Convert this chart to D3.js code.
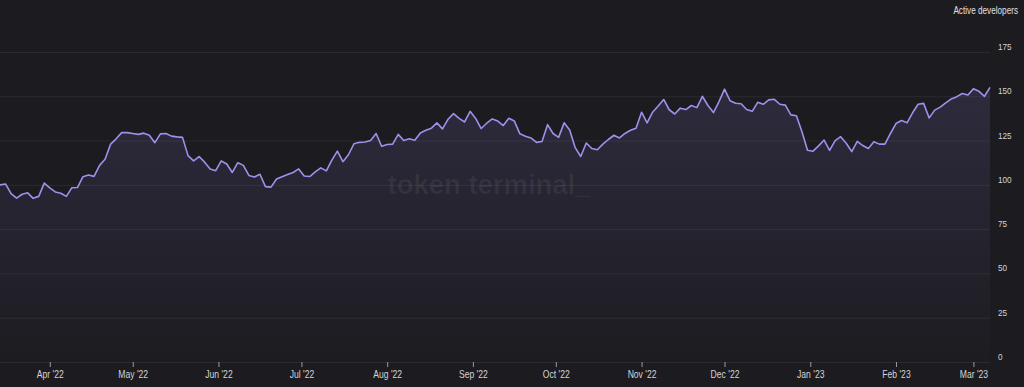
<!DOCTYPE html>
<html>
<head>
<meta charset="utf-8">
<script src="https://cdn.jsdelivr.net/npm/d3@7/dist/d3.min.js"></script>
<style>
  html, body { margin: 0; padding: 0; background: #1c1b1f; }
  svg { display: block; font-family: "Liberation Sans", Arial, sans-serif; }
</style>
</head>
<body>
<svg id="chart" width="1024" height="387"></svg>
<script>
// data: one reading every 2 days, starting 14 Mar 2022
const startDate = new Date(2022, 2, 14);
const stepDays = 2;
const activeDevelopers = [
  100, 100.5, 95, 92.5, 94.7, 95.5, 92.4, 93.5, 101, 98.3,
  96, 95.3, 93.5, 98.4, 98.5, 104.6, 105.6, 104.8, 111, 114.5,
  123, 126, 129.5, 129.5, 129, 128.5, 129.2, 128, 123.8, 128.8,
  129, 127.5, 127.1, 126.8, 116.5, 113.5, 116, 112.8, 109, 108,
  113.5, 111.8, 107, 112.5, 111, 105.3, 104.4, 106, 99, 98.7,
  103.3, 104.6, 105.8, 107, 109, 105, 104.7, 107.3, 109.6, 107.9,
  114, 119, 113.1, 117, 123.2, 124, 124.2, 125, 129, 121.8,
  122.8, 123, 128.5, 125, 126, 125.2, 129.3, 130.8, 132, 135,
  131.6, 137, 140.2, 137.5, 135.5, 141.5, 137.5, 131.8, 134.8, 137.2,
  136, 133.5, 137.6, 136, 128.8, 127.5, 126.5, 124, 124.5, 134,
  129, 126.8, 135, 131, 121, 116, 123.6, 120.5, 119.8, 123,
  125.6, 128, 126.5, 129, 130.8, 132, 141, 135, 141, 144.5,
  148.2, 142.4, 140, 143.3, 142.5, 144.8, 143.6, 150, 144.8, 140.8,
  147, 154, 147.5, 146.1, 145.8, 142.5, 141.5, 146.6, 145.5, 148,
  148.3, 145.5, 145, 139.5, 139, 130, 119.5, 119, 122, 125.3,
  119.5, 125, 127.2, 123.5, 118.8, 124.5, 122.2, 120.5, 124.3, 123,
  123, 129, 134.6, 136.3, 135, 140.7, 145.5, 146, 137.8, 142.2,
  143.9, 146.3, 148.5, 149.8, 151.6, 150.7, 154.2, 152.8, 150, 155
];
const yTicks = [0, 25, 50, 75, 100, 125, 150, 175];
const seriesName = "Active developers";
const watermark = "token terminal_";

const width = 1024, height = 387;
const plot = { left: 0, right: 990, top: 52, bottom: 362 };

const data = activeDevelopers.map((v, i) => ({
  date: d3.timeDay.offset(startDate, i * stepDays),
  value: v
}));

const svg = d3.select("#chart");

svg.append("rect")
  .attr("width", width).attr("height", height)
  .attr("fill", "#1c1b1f");

const x = d3.scaleTime()
  .domain(d3.extent(data, d => d.date))
  .range([plot.left, plot.right]);

const y = d3.scaleLinear()
  .domain([0, 175])
  .range([plot.bottom, plot.top]);

// gradient under the line
const defs = svg.append("defs");
const grad = defs.append("linearGradient")
  .attr("id", "areaFill")
  .attr("gradientUnits", "userSpaceOnUse")
  .attr("x1", 0).attr("x2", 0)
  .attr("y1", y(160)).attr("y2", y(0));
grad.append("stop").attr("offset", "0%").attr("stop-color", "#8f80e0").attr("stop-opacity", 0.16);
grad.append("stop").attr("offset", "100%").attr("stop-color", "#8f80e0").attr("stop-opacity", 0.01);

// grid
svg.append("g")
  .selectAll("line")
  .data(yTicks)
  .join("line")
  .attr("x1", plot.left).attr("x2", plot.right)
  .attr("y1", d => y(d) + 0.5).attr("y2", d => y(d) + 0.5)
  .attr("stroke", "#2b2a30")
  .attr("stroke-width", 1);

// area + line
svg.append("path")
  .datum(data)
  .attr("fill", "url(#areaFill)")
  .attr("d", d3.area()
    .x(d => x(d.date))
    .y0(y(0))
    .y1(d => y(d.value)));

// watermark
svg.append("text")
  .attr("x", 489).attr("y", 194)
  .attr("text-anchor", "middle")
  .attr("font-size", 27)
  .attr("font-weight", 600)
  .attr("fill", "#ffffff")
  .attr("fill-opacity", 0.06)
  .attr("textLength", 203)
  .attr("lengthAdjust", "spacingAndGlyphs")
  .text(watermark);

svg.append("path")
  .datum(data)
  .attr("fill", "none")
  .attr("stroke", "#9e90ec")
  .attr("stroke-width", 1.6)
  .attr("stroke-linejoin", "round")
  .attr("d", d3.line()
    .x(d => x(d.date))
    .y(d => y(d.value)));

// y labels on the right
svg.append("g")
  .selectAll("g")
  .data(yTicks)
  .join("g")
  .attr("transform", d => `translate(998,${y(d) - 2})`)
  .append("text")
  .attr("transform", "scale(0.86,1)")
  .attr("font-size", 9.5)
  .attr("fill", "#d4d4d8")
  .text(d => d);

// x axis
const xAxis = svg.append("g")
  .attr("transform", `translate(0,${plot.bottom})`)
  .call(d3.axisBottom(x)
    .ticks(d3.timeMonth.every(1))
    .tickFormat(d3.timeFormat("%b '%y"))
    .tickSize(5)
    .tickPadding(4));

xAxis.select(".domain").remove();
xAxis.selectAll(".tick line").attr("stroke", "#9a9aa0");
xAxis.selectAll(".tick text")
  .attr("fill", "#d4d4d8")
  .attr("font-size", 10)
  .attr("font-family", "\"Liberation Sans\", Arial, sans-serif")
  .attr("transform", "scale(0.86,1)");

// series title
svg.append("g")
  .attr("transform", "translate(1018,14)")
  .append("text")
  .attr("transform", "scale(0.82,1)")
  .attr("text-anchor", "end")
  .attr("font-size", 10)
  .attr("fill", "#e0e0e4")
  .text(seriesName);
</script>
</body>
</html>
